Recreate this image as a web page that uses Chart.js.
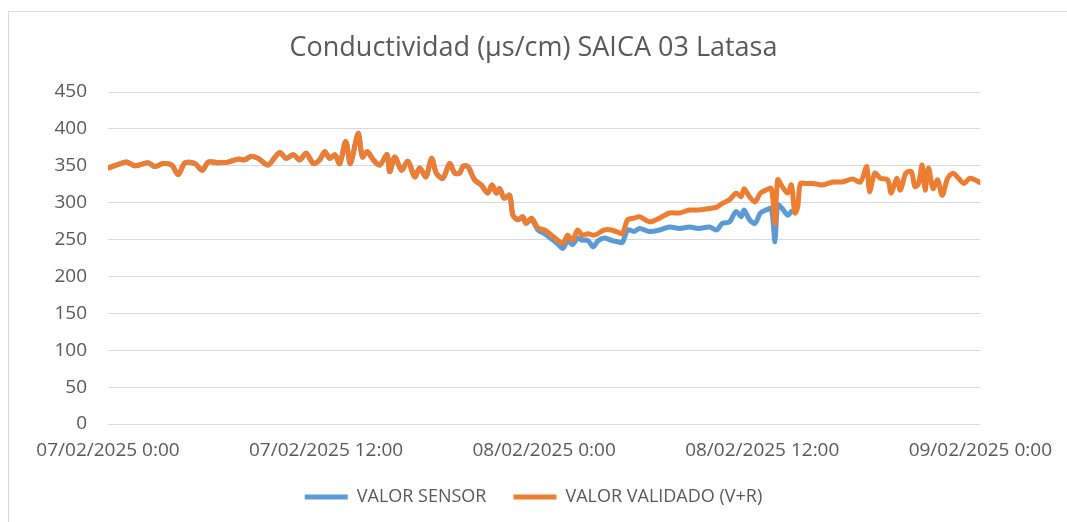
<!DOCTYPE html>
<html lang="es">
<head>
<meta charset="UTF-8">
<title>Conductividad SAICA 03 Latasa</title>
<script src="https://cdn.jsdelivr.net/npm/chart.js"></script>
<style>
    html, body {
        margin: 0;
        padding: 0;
        background: #ffffff;
        overflow: hidden;
    }
    .frame {
        position: absolute;
        left: 8px;
        top: 11px;
        width: 1070px;
        height: 530px;
        border: 1px solid #d9d9d9;
    }
    canvas {
        display: block;
    }
</style>
</head>
<body>
<div class="frame">
    <canvas id="chart" width="1058" height="504"></canvas>
</div>
<script>
// hours since 07/02/2025 0:00
const hours = [
    0, 0.57, 1.03, 1.48, 2.2, 2.58, 3.04, 3.5, 3.87, 4.23, 4.78, 5.19, 5.52, 6.07, 6.6,
    7.17, 7.5, 7.9, 8.26, 8.8, 9.2, 9.46, 9.8, 10.2, 10.55, 10.9, 11.3, 11.65, 11.93,
    12.2, 12.48, 12.75, 13.08, 13.34, 13.76, 14.0, 14.26, 14.6, 14.95, 15.36, 15.5,
    15.78, 16.15, 16.5, 16.88, 17.15, 17.5, 17.8, 18.07, 18.43, 18.8, 19.08, 19.35,
    19.53, 19.8, 20.17, 20.54, 20.9, 21.13, 21.37, 21.55, 21.8, 22.1, 22.28, 22.56,
    22.83, 23.0, 23.3, 23.66, 24.02, 24.4, 24.75, 25.03, 25.3, 25.55, 25.85, 26.1,
    26.4, 26.7, 26.95, 27.3, 27.7, 28.05, 28.3, 28.6, 28.95, 29.25, 29.8, 30.35,
    30.9, 31.45, 32.0, 32.5, 33.1, 33.5, 33.8, 34.2, 34.56, 34.84, 35.0, 35.3, 35.6,
    35.9, 36.2, 36.5, 36.7, 36.85, 37.1, 37.4, 37.6, 37.8, 37.95, 38.1, 38.4, 38.8,
    39.3, 39.9, 40.4, 40.97, 41.4, 41.75, 41.9, 42.2, 42.5, 42.9, 43.1, 43.4, 43.6,
    43.9, 44.2, 44.4, 44.6, 44.8, 44.96, 45.15, 45.4, 45.65, 45.9, 46.2, 46.5, 46.8,
    47.1, 47.4, 47.7, 48
];

const validado = [
    347, 352, 355, 350, 354, 349, 353, 351, 338, 354, 353, 344, 355, 354, 355,
    359, 358, 363, 360, 351, 362, 368, 360, 365, 358, 367, 353, 358, 369,
    360, 365, 353, 383, 353, 394, 362, 369, 358, 351, 365, 342,
    362, 344, 356, 335, 347, 335, 360, 340, 333, 353, 340, 340,
    349, 349, 331, 324, 313, 324, 313, 319, 306, 310, 283, 277,
    281, 272, 279, 266, 263, 256, 249, 245, 256, 249, 263, 256,
    258, 256, 258, 263, 263, 260, 258, 277, 279, 281, 274, 279,
    286, 286, 290, 290, 292, 294, 299, 304, 313, 308, 319, 308, 301,
    313, 317, 319, 272, 331, 322, 313, 324, 286, 294, 326, 326, 326,
    324, 328, 328, 332, 328, 349, 315, 340, 333, 331, 313, 333, 317,
    340, 342, 322, 326, 351, 317, 347, 319, 331, 310, 333, 340, 333,
    326, 333, 331, 327
];

const sensor = [
    347, 352, 355, 350, 354, 349, 353, 351, 338, 354, 353, 344, 355, 354, 355,
    359, 358, 363, 360, 351, 362, 368, 360, 365, 358, 367, 353, 358, 369,
    360, 365, 353, 383, 353, 394, 362, 369, 358, 351, 365, 342,
    362, 344, 356, 335, 347, 335, 360, 340, 333, 353, 340, 340,
    349, 349, 331, 324, 313, 324, 313, 319, 306, 310, 283, 277,
    281, 272, 277, 263, 258, 251, 244, 238, 249, 243, 252, 249,
    249, 240, 248, 252, 249, 247, 246, 263, 261, 265, 261, 263,
    267, 265, 267, 265, 267, 263, 272, 274, 288, 281, 290, 277, 272,
    286, 290, 292, 247, 297, 292, 283, 288, null, null, null, null, null,
    null, null, null, null, null, null, null, null, null, null, null, null, null,
    null, null, null, null, null, null, null, null, null, null, null, null, null,
    null, null, null, null
];

const xTickLabels = ['07/02/2025 0:00', '07/02/2025 12:00', '08/02/2025 0:00', '08/02/2025 12:00', '09/02/2025 0:00'];

const textColor = '#595959';
const fontName = "'Open Sans', 'Noto Sans', sans-serif";

function toPoints(values) {
    return hours.map((h, i) => ({ x: h, y: values[i] }));
}

new Chart(document.getElementById('chart'), {
    type: 'line',
    data: {
        datasets: [{
            label: 'VALOR SENSOR',
            data: toPoints(sensor),
            borderColor: '#5B9BD5',
            backgroundColor: '#5B9BD5',
            borderWidth: 5,
            borderCapStyle: 'round',
            borderJoinStyle: 'round',
            pointRadius: 0,
            tension: 0.3,
            spanGaps: false,
            order: 1
        }, {
            label: 'VALOR VALIDADO (V+R)',
            data: toPoints(validado),
            borderColor: '#ED7D31',
            backgroundColor: '#ED7D31',
            borderWidth: 5,
            borderCapStyle: 'round',
            borderJoinStyle: 'round',
            pointRadius: 0,
            tension: 0.3,
            order: 0
        }]
    },
    options: {
        responsive: false,
        animation: false,
        layout: { padding: { left: 0, right: 9, top: 0, bottom: 0 } },
        plugins: {
            title: {
                display: true,
                text: 'Conductividad (µs/cm) SAICA 03 Latasa',
                color: textColor,
                font: { family: fontName, size: 27, weight: 'normal' },
                padding: { top: 20, bottom: 27.6 }
            },
            legend: {
                position: 'bottom',
                labels: {
                    color: textColor,
                    font: { family: fontName, size: 18 },
                    usePointStyle: true,
                    pointStyle: 'line',
                    pointStyleWidth: 43,
                    padding: 27,
                    sort: (a, b) => a.datasetIndex - b.datasetIndex
                }
            },
            tooltip: { enabled: false }
        },
        scales: {
            x: {
                type: 'linear',
                min: 0,
                max: 48,
                grid: { display: false, drawTicks: false },
                border: { display: false },
                ticks: {
                    stepSize: 12,
                    autoSkip: false,
                    maxRotation: 0,
                    padding: 15,
                    color: textColor,
                    font: { family: fontName, size: 19 },
                    callback: (v) => xTickLabels[v / 12]
                },
                afterFit: (scale) => { scale.height = 37; }
            },
            y: {
                min: 0,
                max: 450,
                grid: { color: '#d9d9d9', lineWidth: 1, drawTicks: false },
                border: { display: false },
                ticks: {
                    stepSize: 50,
                    padding: 21,
                    color: textColor,
                    font: { family: fontName, size: 19 }
                },
                afterFit: (scale) => { scale.width = 99; }
            },
            // empty right margin so title and legend sit where the original has them
            spacer: {
                type: 'linear',
                position: 'right',
                grid: { display: false, drawTicks: false },
                border: { display: false },
                ticks: { display: false },
                afterFit: (scale) => { scale.width = 77; }
            }
        }
    }
});
</script>
</body>
</html>
